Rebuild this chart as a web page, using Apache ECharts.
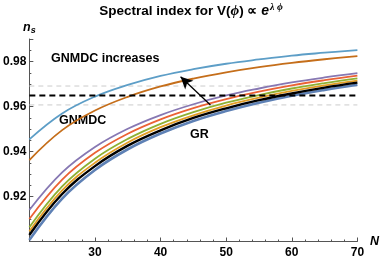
<!DOCTYPE html>
<html><head><meta charset="utf-8">
<script src="https://cdn.jsdelivr.net/npm/echarts@6/dist/echarts.min.js"></script>
<style>html,body{margin:0;padding:0;background:#fff}#c{width:382px;height:260px}</style>
</head><body><div id="c"></div>
<script>
// e-folds
const N = [20, 25, 30, 35, 40, 45, 50, 55, 60, 65, 70];
// n_s curves (GNMDC increasing from bottom to top)
const c1 = [0.9007, 0.9191, 0.9318, 0.9410, 0.9480, 0.9536, 0.9580, 0.9617, 0.9648, 0.9674, 0.9697];
const c2 = [0.9045, 0.9227, 0.9350, 0.9440, 0.9508, 0.9561, 0.9604, 0.9639, 0.9669, 0.9694, 0.9715];
const c3 = [0.9063, 0.9245, 0.9368, 0.9456, 0.9523, 0.9575, 0.9617, 0.9651, 0.9680, 0.9704, 0.9725];
const c4 = [0.9100, 0.9275, 0.9394, 0.9479, 0.9543, 0.9593, 0.9633, 0.9666, 0.9694, 0.9717, 0.9737];
const c5 = [0.9140, 0.9307, 0.9420, 0.9501, 0.9562, 0.9610, 0.9649, 0.9680, 0.9707, 0.9729, 0.9748];
const c6 = [0.9362, 0.9495, 0.9582, 0.9643, 0.9689, 0.9724, 0.9752, 0.9775, 0.9794, 0.9810, 0.9824];
const c7 = [0.9454, 0.9569, 0.9644, 0.9696, 0.9736, 0.9766, 0.9790, 0.9809, 0.9826, 0.9839, 0.9851];
const gr = [0.9029, 0.9211, 0.9335, 0.9426, 0.9494, 0.9549, 0.9592, 0.9628, 0.9658, 0.9684, 0.9706];
// observational band
const nsObs = 0.9649, nsHi = 0.9691, nsLo = 0.9607;
// arrow (from, to) in data coordinates
const arrowFrom = [47.6, 0.9607], arrowTo = [43.05, 0.9732];
const xTickLabels = [30, 40, 50, 60, 70];
const yTickLabels = ['0.92', '0.94', '0.96', '0.98'];

const colors = ['#5E81B5', '#E19C24', '#8FB032', '#EB6235', '#8778B3', '#C56E1A', '#5D9EC7'];
const curves = [c1, c2, c3, c4, c5, c6, c7];
const pairs = ys => N.map((n, i) => [n, ys[i]]);
const span = v => [[N[0], v], [N[N.length - 1], v]];

const series = [];
series.push({type: 'line', data: span(nsHi), symbol: 'none', silent: true,
  lineStyle: {color: '#cccccc', width: 1, type: [5, 4]}, z: 1});
series.push({type: 'line', data: span(nsLo), symbol: 'none', silent: true,
  lineStyle: {color: '#cccccc', width: 1, type: [5, 4]}, z: 1});
curves.forEach((ys, i) => series.push({type: 'line', data: pairs(ys), symbol: 'none', smooth: 0.4,
  lineStyle: {color: colors[i], width: i === 0 ? 2.6 : 1.8}, z: 2}));
series.push({type: 'line', data: pairs(gr), symbol: 'none', smooth: 0.4,
  lineStyle: {color: '#000', width: 2.4}, z: 3});
series.push({type: 'line', data: span(nsObs), symbol: 'none', silent: true,
  lineStyle: {color: '#000', width: 1.8, type: [6, 4]}, z: 4,
  markLine: {silent: true, symbol: ['none', 'arrow'], symbolSize: [9, 12], label: {show: false},
    lineStyle: {color: '#000', width: 1.3, type: 'solid'},
    data: [[{coord: arrowFrom}, {coord: arrowTo}]]}});

const tickFont = {color: '#000', fontFamily: 'Liberation Sans, Arial, sans-serif', fontWeight: 'bold', fontSize: 12};
const chart = echarts.init(document.getElementById('c'), null, {renderer: 'canvas'});
chart.setOption({
  animation: false,
  backgroundColor: '#fff',
  title: {
    left: 'center', top: -3,
    text: '{a|Spectral index for V(}{i|ϕ}{a|) ∝ }{e|e}{s|λ ϕ}',
    textStyle: {rich: {
      a: {fontFamily: 'Liberation Sans, Arial', fontWeight: 'bold', fontSize: 13.5, color: '#000', lineHeight: 18},
      i: {fontFamily: 'Liberation Serif, Times', fontStyle: 'italic', fontWeight: 'bold', fontSize: 15, color: '#000', lineHeight: 18},
      e: {fontFamily: 'Liberation Sans, Arial', fontStyle: 'italic', fontWeight: 'bold', fontSize: 14, color: '#000', lineHeight: 18},
      s: {fontFamily: 'Liberation Serif, Times', fontStyle: 'italic', fontWeight: 'bold', fontSize: 10, color: '#000', verticalAlign: 'top', lineHeight: 18, padding: [0, 0, 7, 1]}
    }}
  },
  grid: {left: 25, right: 24, top: 39, bottom: 18.5, containLabel: false},
  xAxis: {
    type: 'value', min: 20, max: 70, interval: 10,
    name: 'N', nameLocation: 'end', nameGap: 9,
    nameTextStyle: {fontFamily: 'Liberation Sans, Arial', fontStyle: 'italic', fontWeight: 'bold', fontSize: 12.5, color: '#000', verticalAlign: 'middle'},
    axisLine: {lineStyle: {color: '#555', width: 1}},
    axisTick: {inside: true, length: 4, lineStyle: {color: '#555'}},
    minorTick: {show: true, splitNumber: 5, length: 2, lineStyle: {color: '#555'}},
    splitLine: {show: false},
    axisLabel: Object.assign({margin: 5, formatter: v => xTickLabels.includes(v) ? String(v) : ''}, tickFont)
  },
  yAxis: {
    type: 'value', min: 0.90, max: 0.99, interval: 0.02,
    name: '{n|n}{s|s}', nameLocation: 'end', nameGap: 4,
    nameTextStyle: {rich: {
      n: {fontFamily: 'Liberation Sans, Arial', fontStyle: 'italic', fontWeight: 'bold', fontSize: 12.5, color: '#000'},
      s: {fontFamily: 'Liberation Sans, Arial', fontStyle: 'italic', fontWeight: 'bold', fontSize: 9, color: '#000', verticalAlign: 'bottom', padding: [5, 0, 0, 0]}
    }},
    axisLine: {show: true, lineStyle: {color: '#555', width: 1}},
    axisTick: {show: true, inside: true, length: 4, lineStyle: {color: '#555'}},
    minorTick: {show: true, splitNumber: 4, length: 2, lineStyle: {color: '#555'}},
    splitLine: {show: false},
    axisLabel: Object.assign({margin: 3, formatter: v => {const s = v.toFixed(2); return yTickLabels.includes(s) ? s : '';}}, tickFont)
  },
  graphic: [
    {type: 'text', left: 51, top: 52, style: {text: 'GNMDC increases', font: 'bold 12.5px Liberation Sans, Arial', fill: '#000'}},
    {type: 'text', left: 59, top: 114, style: {text: 'GNMDC', font: 'bold 12.5px Liberation Sans, Arial', fill: '#000'}},
    {type: 'text', left: 190, top: 128, style: {text: 'GR', font: 'bold 12.5px Liberation Sans, Arial', fill: '#000'}}
  ],
  series: series
});
</script>
</body></html>
